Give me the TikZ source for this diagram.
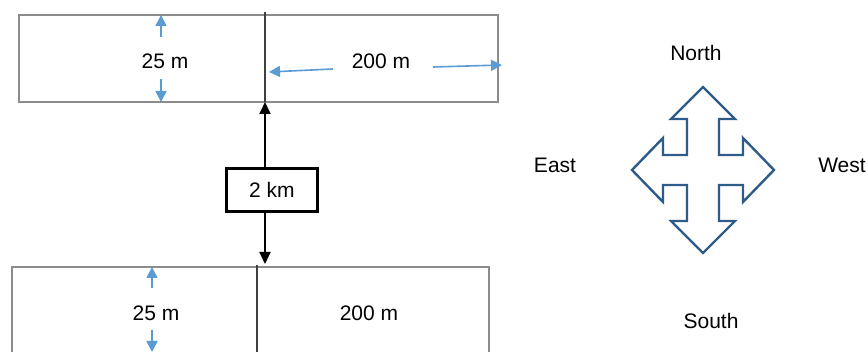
\documentclass[tikz,border=0pt]{standalone}
\usepackage{fontspec}
\setmainfont{Liberation Sans}
\usetikzlibrary{arrows.meta}
\definecolor{stripgray}{HTML}{8C8C8C}
\definecolor{dimblue}{HTML}{5B9BD5}
\definecolor{compassblue}{HTML}{2F5B88}
\begin{document}
\begin{tikzpicture}[x=1pt,y=-1pt,
  every node/.style={font=\fontsize{21}{25}\selectfont},
  strip/.style={stripgray,line width=2.2pt},
  divider/.style={black!75,line width=1.6pt},
  dim/.style={dimblue,line width=1.6pt,-{Triangle[width=11pt,length=11pt]}},
  gap/.style={black,line width=1.8pt,-{Triangle[width=11pt,length=12pt]}}]
  \useasboundingbox (0,0) rectangle (868,352);
  % upper strip
  \draw[strip] (19,15) rectangle (498,102);
  \draw[divider] (265,12) -- (265,102);
  \node (upw) at (165,61) {25 m};
  \node (upl) at (381,61) {200 m};
  \coordinate (upt) at (161,15);
  \coordinate (upb) at (161,102);
  \coordinate (upm) at (269,72);
  \coordinate (upr) at (502,65);
  \draw[dim] (161,37) -- (upt);
  \draw[dim] (161,79) -- (upb);
  \draw[dim] (333,69) -- (upm);
  \draw[dim] (433,67) -- (upr);
  % distance between strips
  \node[draw,line width=2.2pt,minimum width=91pt,minimum height=43pt] (km) at (272,190) {2 km};
  \coordinate (tb) at (265,102);
  \coordinate (bt) at (265,264);
  \draw[gap] (km.north -| tb) -- (tb);
  \draw[gap] (km.south -| bt) -- (bt);
  % lower strip
  \draw[strip] (12,352) -- (12,267) -- (489,267) -- (489,352);
  \draw[divider] (257,265) -- (257,352);
  \node (low) at (156,313) {25 m};
  \node (lol) at (369,313) {200 m};
  \coordinate (lot) at (152,267);
  \coordinate (lob) at (152,352);
  \draw[dim] (152,288) -- (lot);
  \draw[dim] (152,330) -- (lob);
  % compass
  \draw[compassblue,line width=2.4pt,line join=miter,shift={(703,170)}]
    (0,-83) -- (32,-51) -- (16,-51) -- (16,-15) -- (40,-15) -- (40,-32)
    -- (71,0) -- (40,32) -- (40,15) -- (16,15) -- (16,51) -- (32,51)
    -- (0,83) -- (-32,51) -- (-16,51) -- (-16,15) -- (-40,15) -- (-40,32)
    -- (-71,0) -- (-40,-32) -- (-40,-15) -- (-16,-15) -- (-16,-51) -- (-32,-51) -- cycle;
  \node (north) at (696,53) {North};
  \node (east) at (555,165) {East};
  \node (west) at (842,165) {West};
  \node (south) at (711,321) {South};
\end{tikzpicture}
\end{document}
